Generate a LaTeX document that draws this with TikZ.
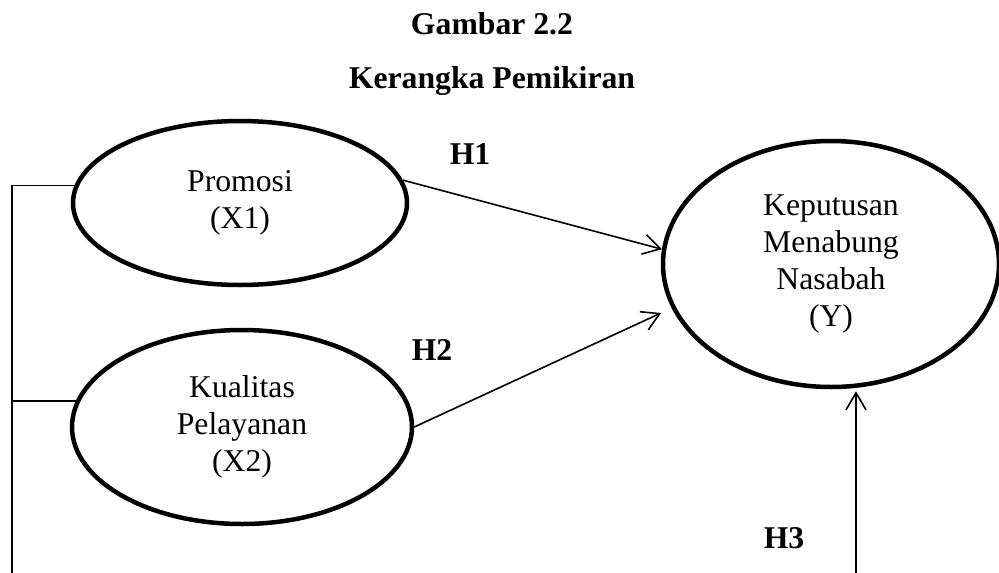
\documentclass[tikz,border=0pt]{standalone}
\usepackage{fontspec}
\setmainfont{Liberation Serif}
\usetikzlibrary{arrows.meta,positioning,shapes.geometric}

\begin{document}
\begin{tikzpicture}[x=1pt,y=-1pt,
 var/.style={ellipse,draw,line width=4.5pt,inner sep=0pt,align=center,font=\fontsize{31.7}{36.7}\selectfont},
 hyp/.style={font=\fontsize{31.7}{36.7}\selectfont\bfseries},
 link/.style={line width=1.6pt,-{Straight Barb[length=17pt,width=20pt,line width=1.6pt]}}]
\useasboundingbox (0,0) rectangle (999,573);

\node[hyp,anchor=base] (fig) at (492,34) {Gambar 2.2};
\node[hyp,anchor=base] (caption) at (492,88) {Kerangka Pemikiran};

\node[var,minimum width=334pt,minimum height=164pt] (X1) at (240,203) {Promosi\\(X1)};
\node[var,minimum width=340pt,minimum height=194pt] (X2) at (242,427) {Kualitas\\Pelayanan\\(X2)};
\node[var,minimum width=336pt,minimum height=246pt] (Y) at (831,264) {Keputusan\\Menabung\\Nasabah\\(Y)};

\node[hyp] (h1) at (470,154) {H1};
\node[hyp] (h2) at (432,350) {H2};
\node[hyp] (h3) at (784,538) {H3};

% bracket on the left
\coordinate (bl) at (12,573);
\draw[line width=1.6pt] (X1.174) -| (bl);
\draw[line width=1.6pt] (X2.171) -- (X2.171 -| bl);

\coordinate (h2tip) at (661,313);
\coordinate (h3foot) at (856,573);
\draw[link] (X1.8) -- (Y.175);
\draw[link] (X2.east) -- (h2tip);
\draw[link,shorten >=2pt] (h3foot) -- (h3foot |- Y.south);
\end{tikzpicture}
\end{document}
